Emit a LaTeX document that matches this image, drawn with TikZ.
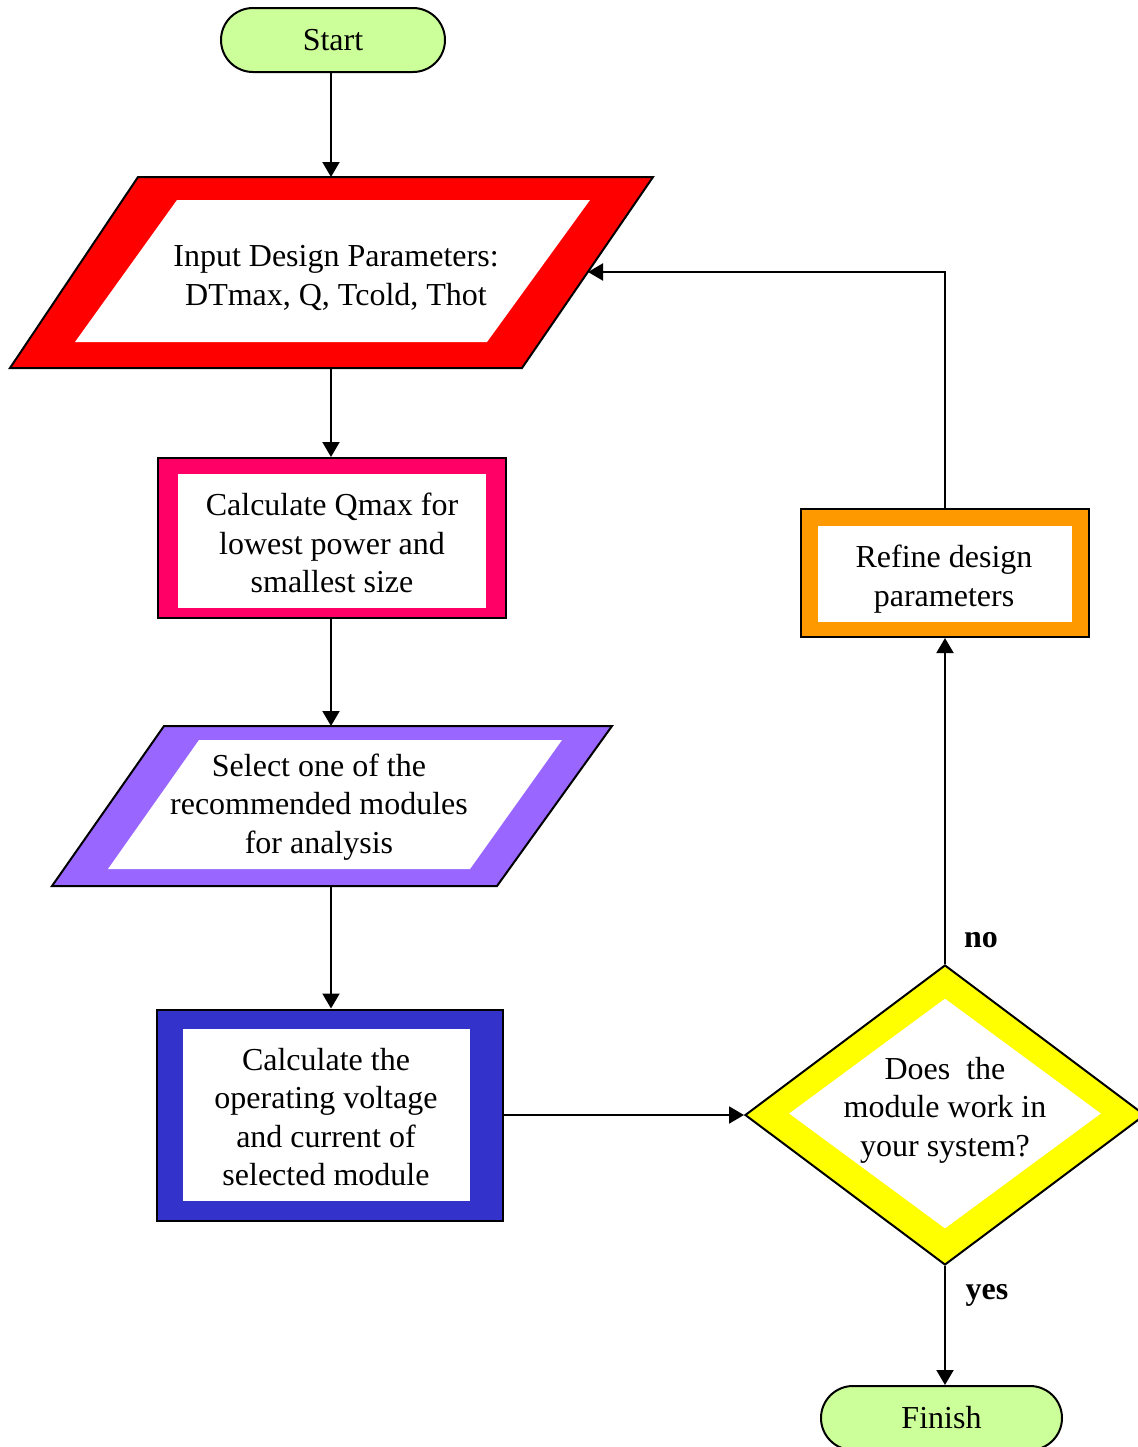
\documentclass[tikz,border=0pt]{standalone}
\usepackage{fontspec}
\setmainfont{Liberation Serif}
\usetikzlibrary{shapes.geometric,arrows.meta}
\definecolor{termgreen}{HTML}{CCFF99}
\definecolor{inred}{HTML}{FF0000}
\definecolor{calcpink}{HTML}{FF0066}
\definecolor{selpurple}{HTML}{9966FF}
\definecolor{opblue}{HTML}{3333CC}
\definecolor{decyellow}{HTML}{FFFF00}
\definecolor{reforange}{HTML}{FF9900}
\begin{document}
\begin{tikzpicture}[x=0.5pt,y=-0.5pt,
  outl/.style={draw=black,line width=1pt},
  box/.style={outl,rectangle,inner sep=0pt},
  innerbox/.style={fill=white,rectangle,inner sep=0pt},
  txt/.style={align=center,font=\fontsize{16}{19.25}\selectfont,inner sep=0pt},
  arr/.style={line width=1pt,-{Triangle[width=8.5pt,length=7.5pt]}},
  term/.style={outl,fill=termgreen,rectangle,rounded corners=16pt,minimum width=#1,minimum height=32pt,inner sep=0pt,font=\fontsize{16}{19.25}\selectfont},
  lab/.style={font=\bfseries\fontsize{16}{19.25}\selectfont,inner sep=0pt}
]
\useasboundingbox (0,0) rectangle (1137,1447);

% Start
\node[term=112pt] (start) at (333,40) {Start};

% Input parallelogram
\path[outl,fill=inred] (138,177) -- (653,177) -- (522,368) -- (10,368) -- cycle;
\path[fill=white] (177,200) -- (590,200) -- (487,342) -- (75,342) -- cycle;
\node[txt] (input) at (336,278) {Input Design Parameters:\\DTmax, Q, Tcold, Thot};
\coordinate (in-n) at (331,177);
\coordinate (in-s) at (331,368);
\coordinate (in-e) at (588,272);

% Calculate Qmax
\node[box,fill=calcpink,minimum width=174pt,minimum height=80pt] (calc) at (332,538) {};
\node[innerbox,minimum width=154pt,minimum height=67pt] (calc-in) at (332,541) {};
\node[txt] (calc-t) at (332,543) {Calculate Qmax for\\lowest power and\\smallest size};

% Select parallelogram
\path[outl,fill=selpurple] (164,726) -- (612,726) -- (497,886) -- (52,886) -- cycle;
\path[fill=white] (199,740) -- (562,740) -- (470,869) -- (108,869) -- cycle;
\node[txt] (select) at (319,807) {Select one of the\\recommended modules\\for analysis};
\coordinate (sel-n) at (331,726);
\coordinate (sel-s) at (331,886);

% Calculate operating voltage
\node[box,fill=opblue,minimum width=173pt,minimum height=105.5pt] (oper) at (330,1115) {};
\node[innerbox,minimum width=143.5pt,minimum height=86pt] (oper-in) at (326.5,1115) {};
\node[txt] (oper-t) at (326,1117) {Calculate the\\operating voltage\\and current of\\selected module};

% Decision diamond
\node[outl,diamond,fill=decyellow,inner sep=0pt,minimum width=200pt,minimum height=150pt] (dec) at (945,1115) {};
\node[diamond,fill=white,inner sep=0pt,minimum width=156pt,minimum height=115pt] (dec-in) at (945,1113.5) {};
\node[txt] (dec-t) at (945,1110) {Does\ \ the\\module work in\\your system?};

% Refine
\node[box,fill=reforange,minimum width=144pt,minimum height=64pt] (refine) at (945,573) {};
\node[innerbox,minimum width=127pt,minimum height=48pt] (refine-in) at (945,574) {};
\node[txt] (refine-t) at (944,579) {Refine design\\parameters};

% Finish
\node[term=120.5pt] (finish) at (941.5,1418) {Finish};

% Connectors
\draw[arr] (start.south -| in-n) -- (in-n);
\draw[arr] (in-s) -- (in-s |- calc.north);
\draw[arr] (calc.south -| sel-n) -- (sel-n);
\draw[arr] (sel-s) -- (sel-s |- oper.north);
\draw[arr] (oper.east) -- (dec.west);
\draw[arr] (dec.north) -- (refine.south);
\draw[arr] (refine.north) |- (in-e);
\draw[arr] (dec.south) -- (dec.south |- finish.north);

% Labels
\node[lab] (no) at (981,940) {no};
\node[lab] (yes) at (987,1295) {yes};
\end{tikzpicture}
\end{document}
